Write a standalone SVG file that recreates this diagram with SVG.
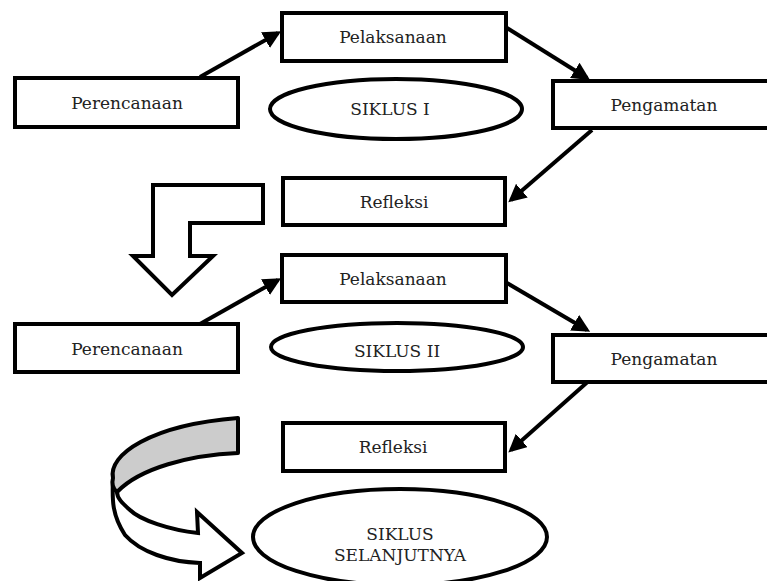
<svg xmlns="http://www.w3.org/2000/svg" width="767" height="581" viewBox="0 0 767 581">
<style>
.box{fill:#fff;stroke:#000;stroke-width:4}
.ell{fill:#fff;stroke:#000;stroke-width:4}
.lbl{font-family:'DejaVu Serif','Liberation Serif',serif;font-size:17px;fill:#222;text-anchor:middle}
.con{stroke:#000;stroke-width:4;fill:none;marker-end:url(#ah)}
.blk{fill:#fff;stroke:#000;stroke-width:4;stroke-linejoin:miter}
</style>
<defs>
<marker id="ah" viewBox="0 0 10 10" refX="8" refY="5" markerWidth="4.5" markerHeight="4.5" markerUnits="strokeWidth" orient="auto">
<path d="M0,0 L10,5 L0,10 Z" fill="#000"/>
</marker>
</defs>
<rect width="767" height="581" fill="#fff"/>
<g id="connectors">
<line class="con" x1="200" y1="77" x2="278" y2="33"/>
<line class="con" x1="507" y1="28" x2="587" y2="78"/>
<line class="con" x1="592" y1="130" x2="511" y2="200"/>
<line class="con" x1="200" y1="324" x2="278" y2="280"/>
<line class="con" x1="507" y1="283" x2="587" y2="330"/>
<line class="con" x1="592" y1="378" x2="511" y2="450"/>
<path id="bent-arrow" class="blk" d="M153,185 L263,185 L263,223 L190,223 L190,256 L213,256 L172,295 L133,256 L153,256 Z"/>
<g id="curved-arrow">
<path d="M113,478 C112,500 112,515 125,535 C140,552 170,562 200,563 L200,578 L242,553 L197,512 L198,533 C170,530 140,520 130,510 C122,503 117,498 117,492 Z" class="blk"/>
<path d="M238,418 L238,453 C190,455 140,468 117,492 C112,488 112,482 113,478 C108,455 150,425 238,418 Z" fill="#cccccc" stroke="#000" stroke-width="4" stroke-linejoin="round"/>
</g>
</g>
<g id="perencanaan1"><rect class="box" x="15" y="78" width="223" height="49"/><text class="lbl" x="127" y="109">Perencanaan</text></g>
<g id="pelaksanaan1"><rect class="box" x="282" y="13" width="224" height="48"/><text class="lbl" x="393" y="43">Pelaksanaan</text></g>
<g id="siklus1"><ellipse class="ell" cx="396" cy="109" rx="126" ry="30"/><text class="lbl" x="390" y="115">SIKLUS I</text></g>
<g id="pengamatan1"><rect class="box" x="553" y="81" width="230" height="47"/><text class="lbl" x="664" y="111">Pengamatan</text></g>
<g id="refleksi1"><rect class="box" x="283" y="178" width="222" height="47"/><text class="lbl" x="394" y="208">Refleksi</text></g>
<g id="pelaksanaan2"><rect class="box" x="282" y="255" width="224" height="47"/><text class="lbl" x="393" y="285">Pelaksanaan</text></g>
<g id="perencanaan2"><rect class="box" x="15" y="324" width="223" height="48"/><text class="lbl" x="127" y="355">Perencanaan</text></g>
<g id="siklus2"><ellipse class="ell" cx="397" cy="347" rx="126" ry="24"/><text class="lbl" x="397" y="357">SIKLUS II</text></g>
<g id="pengamatan2"><rect class="box" x="553" y="335" width="230" height="47"/><text class="lbl" x="664" y="365">Pengamatan</text></g>
<g id="refleksi2"><rect class="box" x="283" y="423" width="222" height="48"/><text class="lbl" x="393" y="453">Refleksi</text></g>
<g id="siklus-selanjutnya"><ellipse class="ell" cx="400" cy="537" rx="147" ry="48"/><text class="lbl" x="400" y="540">SIKLUS</text><text class="lbl" x="400" y="561">SELANJUTNYA</text></g>
</svg>
